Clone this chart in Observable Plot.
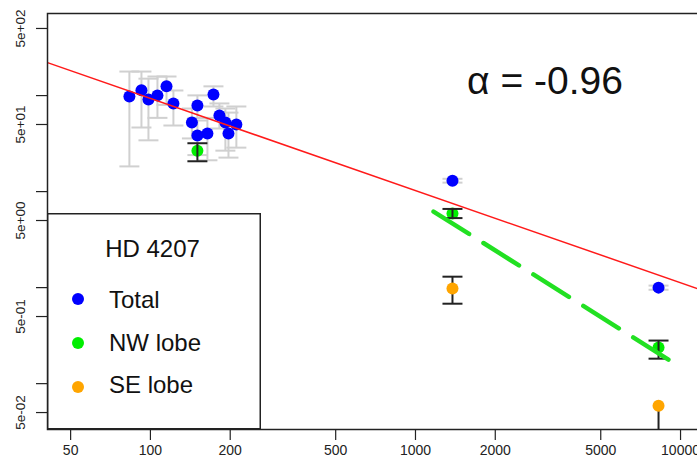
<!DOCTYPE html>
<html>
<head>
<meta charset="utf-8">
<script src="https://cdn.jsdelivr.net/npm/d3@7"></script>
<script src="https://cdn.jsdelivr.net/npm/@observablehq/plot@0.6"></script>
<style>
  html, body { margin: 0; padding: 0; background: #fff; overflow: hidden; }
  #chart { position: relative; width: 697px; height: 471px; overflow: hidden;
           font-family: "Liberation Sans", Arial, Helvetica, sans-serif; }
  #plot { position: absolute; left: 0; top: 0; width: 720px; }
  #plot svg { max-width: none !important; }
  #overlay { position: absolute; left: 0; top: 0; pointer-events: none; }
</style>
</head>
<body>
<div id="chart">
  <div id="plot"></div>
  <svg id="overlay" width="697" height="471"></svg>
</div>
<script>
// Spectral index fit for the total flux density
const fitAlpha = -0.96;
const fitNorm = 7780;

// Total flux density: frequency, flux, lower and upper error limits
const totalX  = [83.3, 92.5, 98.3, 106.3, 115.0, 122.1, 143.4, 150.4, 172.9, 182.1, 150.4, 164.1, 191.8, 197.0, 211.0, 1379, 8260];
const totalY  = [97.8, 113.9, 91.0, 100.5, 124.9, 82.8, 52.5, 78.9, 102.7, 62.1, 38.3, 40.3, 52.5, 40.3, 50.0, 13.0, 1.00];
const totalLo = [18.3, 46.5, 34.2, 58.6, 80.0, 48.8, 35.8, 58.6, 77.0, 45.4, 24.0, 21.2, 26.7, 22.6, 28.7, 12.4, 0.95];
const totalHi = [178, 178, 150, 158, 158, 113, 73.3, 100.5, 124.8, 82.8, 55.0, 58.6, 73.3, 66.5, 77.0, 13.6, 1.05];

// NW lobe
const nwX  = [150.4, 1379, 8260];
const nwY  = [26.7, 5.9, 0.238];
const nwLo = [20.7, 5.3, 0.182];
const nwHi = [31.9, 6.6, 0.281];

// SE lobe
const seX  = [1379, 8260];
const seY  = [0.98, 0.059];
const seLo = [0.68, 0.01];
const seHi = [1.30, 0.059];

// Power-law fit through the NW lobe (end points)
const nwFitX = [1170, 9000];
const nwFitY = [6.2, 0.178];

// Axis ticks and labels
const xTicks = [50, 100, 200, 500, 1000, 2000, 5000, 10000];
const xTickLabels = ["50", "100", "200", "500", "1000", "2000", "5000", "10000"];
const yTicks = [0.05, 0.1, 0.5, 1, 5, 10, 50, 100, 500];
const yLabelValues = [0.05, 0.5, 5, 50, 500];
const yLabelText = ["5e-02", "5e-01", "5e+00", "5e+01", "5e+02"];

// Legend
const legendTitle = "HD 4207";
const legendLabels = ["Total", "NW lobe", "SE lobe"];

const colTotal = "#0000ff", colNW = "#00ee00", colSE = "#ffa500";
const legendColors = [colTotal, colNW, colSE];

const rows = (xs, ys, los, his) => xs.map((x, i) => ({x, y: ys[i], lo: los[i], hi: his[i]}));
const total = rows(totalX, totalY, totalLo, totalHi);
const nw = rows(nwX, nwY, nwLo, nwHi);
const se = rows(seX, seY, seLo, seHi);
const nwFit = nwFitX.map((x, i) => ({x, y: nwFitY[i]}));
const xDomain = [40.9, 14150];

// horizontal bar symbol used for error-bar caps
const capSymbol = {
  draw(context, size) {
    const w = Math.sqrt(size / Math.PI);
    context.moveTo(-w, 0);
    context.lineTo(w, 0);
  }
};

// vertical error bars; a zero-length side gets no cap
function errorBars(data, color) {
  const style = {symbol: capSymbol, r: 10, stroke: color, strokeWidth: 2, fill: "none", clip: true};
  return [
    Plot.ruleX(data, {x: "x", y1: "lo", y2: "hi", stroke: color, strokeWidth: 2, clip: true}),
    Plot.dot(data.filter(d => d.lo < d.y), {x: "x", y: "lo", ...style}),
    Plot.dot(data.filter(d => d.hi > d.y), {x: "x", y: "hi", ...style})
  ];
}

const chart = Plot.plot({
  width: 720,
  height: 471,
  marginLeft: 47,
  marginRight: 0,
  marginTop: 13,
  marginBottom: 42,
  x: {type: "log", domain: xDomain, label: null},
  y: {type: "log", domain: [0.0333, 716], label: null},
  style: {fontFamily: "'Liberation Sans', Arial, sans-serif", fontSize: "14px", color: "#222", background: "#fff", maxWidth: "none"},
  marks: [
    Plot.axisX(xTicks, {tickSize: 11, tickFormat: () => "", label: null, strokeWidth: 1.2}),
    Plot.text(xTicks, {x: d => d, text: (d, i) => xTickLabels[i], frameAnchor: "bottom", dy: 21,
      lineAnchor: "middle", fontSize: 14, fill: "#222"}),
    Plot.axisY(yTicks, {tickSize: 11, tickFormat: () => "", label: null, strokeWidth: 1.2}),
    Plot.text(yLabelValues, {y: d => d, text: (d, i) => yLabelText[i], frameAnchor: "left", dx: -27,
      rotate: -90, textAnchor: "middle", fontSize: 13.5, fill: "#222"}),
    ...errorBars(total, "#d0d0d0"),
    Plot.dot(total, {x: "x", y: "y", r: 6, fill: colTotal}),
    Plot.dot(nw, {x: "x", y: "y", r: 6, fill: colNW}),
    ...errorBars(nw, "#222"),
    ...errorBars(se, "#222"),
    Plot.dot(se, {x: "x", y: "y", r: 6, fill: colSE}),
    Plot.line(xDomain, {x: d => d, y: d => fitNorm * Math.pow(d, fitAlpha), stroke: "#ff1a1a", strokeWidth: 1.5, clip: true}),
    Plot.line(nwFit, {x: "x", y: "y", stroke: "#22e022", strokeWidth: 4.5, strokeDasharray: "42,17"}),
    Plot.frame({stroke: "#222", strokeWidth: 1.5})
  ]
});
chart.style.maxWidth = "none";
document.getElementById("plot").appendChild(chart);

// spectral index annotation and legend
const ov = d3.select("#overlay");
ov.append("text")
  .attr("x", 545).attr("y", 94)
  .attr("text-anchor", "middle")
  .attr("font-size", 39)
  .attr("fill", "#111")
  .text(`α = ${fitAlpha}`);

const lg = ov.append("g");
lg.append("rect")
  .attr("x", 47.75).attr("y", 213.75).attr("width", 212.5).attr("height", 215)
  .attr("fill", "#fff").attr("stroke", "#222").attr("stroke-width", 1.5);
lg.append("text")
  .attr("x", 152.5).attr("y", 257).attr("text-anchor", "middle")
  .attr("font-size", 24).attr("fill", "#111").text(legendTitle);
legendLabels.forEach((lab, i) => {
  lg.append("circle").attr("cx", 78).attr("cy", 299 + i * 44).attr("r", 6).attr("fill", legendColors[i]);
  lg.append("text").attr("x", 109).attr("y", 308 + i * 42.5)
    .attr("font-size", 24).attr("fill", "#111").text(lab);
});
</script>
</body>
</html>
